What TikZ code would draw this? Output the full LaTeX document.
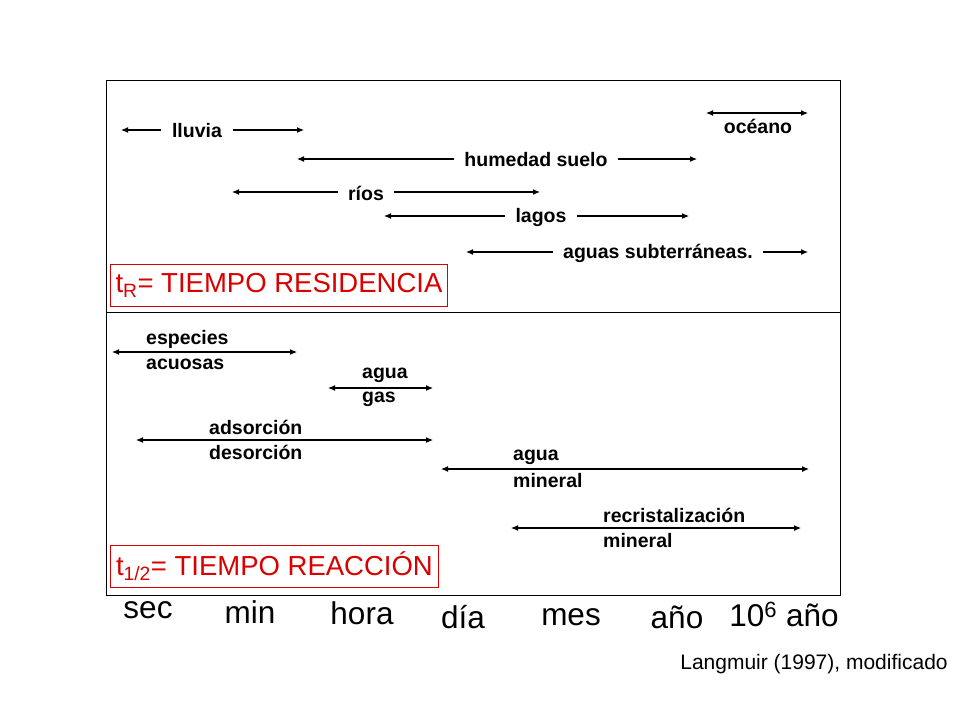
\documentclass[tikz,border=0pt]{standalone}
\usepackage{fontspec}
\setmainfont{Liberation Sans}
\usetikzlibrary{arrows.meta}
\begin{document}
\begin{tikzpicture}[x=1pt,y=-1pt,
 lab/.style={font=\fontsize{19.5}{19.5}\selectfont\bfseries,inner sep=0pt},
 labl/.style={lab,anchor=west},
 arr/.style={-{Latex[length=7pt,width=6pt]},line width=1.1pt},
 dbl/.style={{Latex[length=7pt,width=6pt]}-{Latex[length=7pt,width=6pt]},line width=1.1pt},
 red/.style={draw=red!85!black,text=red!85!black,line width=0.9pt,font=\fontsize{27.5}{27.5}\selectfont,inner xsep=5pt,anchor=north west,minimum height=42pt},
 ax/.style={font=\fontsize{31.5}{31.5}\selectfont,inner sep=0pt}]
\useasboundingbox (0,0) rectangle (960,720);
\draw[line width=0.8pt] (106,80) rectangle (840,595);
\draw[line width=0.8pt] (106,312) -- (840,312);
% top
\node[lab] (ll) at (197,131) {lluvia};
\coordinate (llL) at (121,130); \coordinate (llR) at (304,130);
\draw[arr] ([xshift=-11pt]ll.west|-llL) -- (llL); \draw[arr] ([xshift=11pt]ll.east|-llR) -- (llR);
\coordinate (ocL) at (706,113); \coordinate (ocR) at (808,113);
\draw[dbl] (ocL) -- (ocR);
\node[lab] (oc) at (758,126) {océano};
\node[lab] (hs) at (536,160) {humedad suelo};
\coordinate (hsL) at (297,159); \coordinate (hsR) at (697,159);
\draw[arr] ([xshift=-10pt]hs.west|-hsL) -- (hsL); \draw[arr] ([xshift=10pt]hs.east|-hsR) -- (hsR);
\node[lab] (ri) at (366,193) {ríos};
\coordinate (riL) at (232,192); \coordinate (riR) at (540,192);
\draw[arr] ([xshift=-10pt]ri.west|-riL) -- (riL); \draw[arr] ([xshift=10pt]ri.east|-riR) -- (riR);
\node[lab] (la) at (541,217) {lagos};
\coordinate (laL) at (384,216); \coordinate (laR) at (689,216);
\draw[arr] ([xshift=-10pt]la.west|-laL) -- (laL); \draw[arr] ([xshift=10pt]la.east|-laR) -- (laR);
\node[lab] (as) at (658,253) {aguas subterráneas.};
\coordinate (asL) at (466,252); \coordinate (asR) at (808,252);
\draw[arr] ([xshift=-10pt]as.west|-asL) -- (asL); \draw[arr] ([xshift=10pt]as.east|-asR) -- (asR);
\node[red,minimum width=337pt] (tr) at (110,264) {t\textsubscript{R}= TIEMPO RESIDENCIA};
% bottom
\coordinate (a1) at (112,352); \coordinate (b1) at (297,352); \draw[dbl] (a1) -- (b1);
\node[labl] (t1) at (146,339) {especies}; \node[labl] (u1) at (146,364) {acuosas};
\coordinate (a2) at (328,388); \coordinate (b2) at (433,388); \draw[dbl] (a2) -- (b2);
\node[labl] (t2) at (362,375) {agua}; \node[labl] (u2) at (362,399) {gas};
\coordinate (a3) at (136,440); \coordinate (b3) at (433,440); \draw[dbl] (a3) -- (b3);
\node[labl] (t3) at (209,427) {adsorción}; \node[labl] (u3) at (209,452) {desorción};
\coordinate (a4) at (441,469); \coordinate (b4) at (809,469); \draw[dbl] (a4) -- (b4);
\node[labl] (t4) at (513,457) {agua}; \node[labl] (u4) at (513,481) {mineral};
\coordinate (a5) at (511,528); \coordinate (b5) at (801,528); \draw[dbl] (a5) -- (b5);
\node[labl] (t5) at (603,515) {recristalización}; \node[labl] (u5) at (603,541) {mineral};
\node[red,minimum width=328pt] (tre) at (110,545) {t\textsubscript{1/2}= TIEMPO REACCIÓN};
% axis
\node[ax] (s1) at (148,610) {sec};
\node[ax] (s2) at (250,612) {min};
\node[ax] (s3) at (362,613) {hora};
\node[ax] (s4) at (463,617) {día};
\node[ax] (s5) at (571,617) {mes};
\node[ax] (s6) at (677,617) {año};
\node[ax] (s7) at (784,614) {10\textsuperscript{6} año};
\node[font=\fontsize{21}{21}\selectfont,inner sep=0pt] (src) at (814,664) {Langmuir (1997), modificado};
\end{tikzpicture}
\end{document}
